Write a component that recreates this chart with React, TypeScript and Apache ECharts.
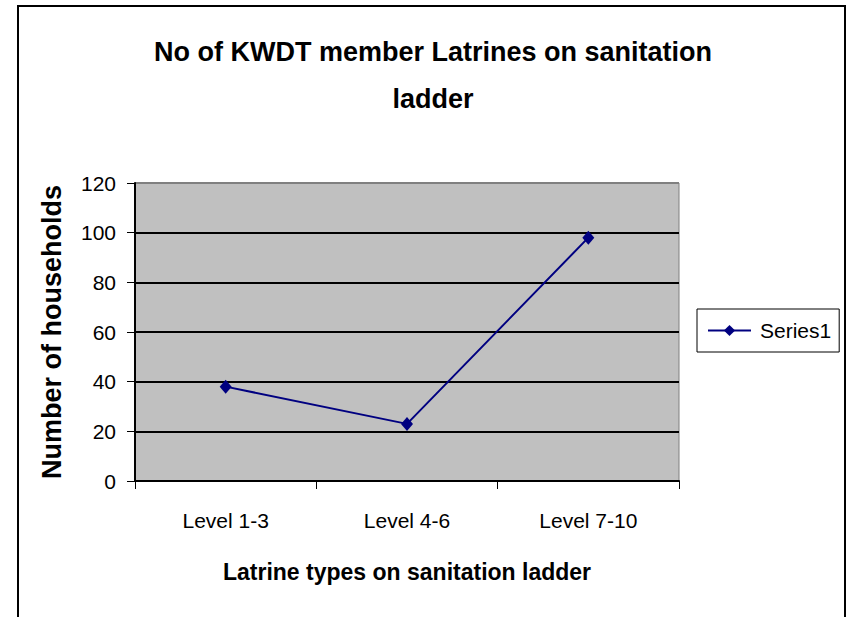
import React, { useEffect, useRef } from "react";
import * as echarts from "echarts";

const categories = ["Level 1-3", "Level 4-6", "Level 7-10"];
const series1 = [38, 23, 98];
const titleLines = ["No of KWDT member Latrines on sanitation", "ladder"];
const yAxisTitle = "Number of households";
const xAxisTitle = "Latrine types on sanitation ladder";
const seriesName = "Series1";

const FONT = "'Liberation Sans', Arial, Helvetica, sans-serif";

export default function App() {
  const ref = useRef<HTMLDivElement>(null);
  useEffect(() => {
    if (!ref.current) return;
    const chart = echarts.init(ref.current, null, { renderer: "svg" });
    chart.setOption({
      animation: false,
      backgroundColor: "#ffffff",
      graphic: [
        {
          type: "rect",
          shape: { x: 18, y: 6, width: 827, height: 700 },
          style: { fill: "none", stroke: "#000", lineWidth: 2 },
          silent: true,
        },
        {
          type: "text",
          x: 433,
          y: 52,
          style: {
            text: titleLines[0],
            fontFamily: FONT,
            fontSize: 27,
            fontWeight: "bold",
            fill: "#000",
            align: "center",
            verticalAlign: "middle",
          },
        },
        {
          type: "text",
          x: 433,
          y: 99,
          style: {
            text: titleLines[1],
            fontFamily: FONT,
            fontSize: 27,
            fontWeight: "bold",
            fill: "#000",
            align: "center",
            verticalAlign: "middle",
          },
        },
      ],
      legend: {
        show: true,
        left: 697,
        top: 309,
        orient: "vertical",
        padding: [11, 8, 11, 10],
        borderColor: "#000",
        borderWidth: 1,
        backgroundColor: "#fff",
        itemWidth: 43,
        itemHeight: 14,
        textStyle: { fontFamily: FONT, fontSize: 21, color: "#000", padding: [0, 0, 0, 4] },
        data: [seriesName],
      },
      grid: {
        left: 135,
        right: 171,
        top: 183,
        bottom: 136,
        show: true,
        backgroundColor: "#C0C0C0",
        borderColor: "#808080",
        borderWidth: 1,
        containLabel: false,
      },
      xAxis: {
        type: "category",
        data: categories,
        boundaryGap: true,
        axisLine: { show: true, lineStyle: { color: "#000", width: 2 } },
        axisTick: { show: true, alignWithLabel: false, length: 8, lineStyle: { color: "#000", width: 1 } },
        axisLabel: { fontFamily: FONT, fontSize: 21, color: "#000", margin: 29 },
        splitLine: { show: false },
        name: xAxisTitle,
        nameLocation: "middle",
        nameGap: 79,
        nameTextStyle: { fontFamily: FONT, fontSize: 23, fontWeight: "bold", color: "#000" },
      },
      yAxis: {
        type: "value",
        min: 0,
        max: 120,
        interval: 20,
        axisLine: { show: true, lineStyle: { color: "#000", width: 2 } },
        axisTick: { show: true, inside: false, length: 8, lineStyle: { color: "#000", width: 1 } },
        axisLabel: { fontFamily: FONT, fontSize: 21, color: "#000", margin: 19 },
        splitLine: {
          show: true,
          lineStyle: {
            color: ["#000", "#000", "#000", "#000", "#000", "#000", "#808080"],
            width: 2,
          },
        },
        name: yAxisTitle,
        nameLocation: "middle",
        nameGap: 70,
        nameTextStyle: { fontFamily: FONT, fontSize: 27, fontWeight: "bold", color: "#000" },
      },
      series: [
        {
          name: seriesName,
          type: "line",
          data: series1,
          color: "#000080",
          symbol: "diamond",
          symbolSize: [12, 14],
          lineStyle: { color: "#000080", width: 2 },
          itemStyle: { color: "#000080" },
        },
      ],
    });
    return () => chart.dispose();
  }, []);
  return (
    <div
      ref={ref}
      style={{ position: "fixed", left: 0, top: 0, width: 850, height: 617 }}
    />
  );
}
